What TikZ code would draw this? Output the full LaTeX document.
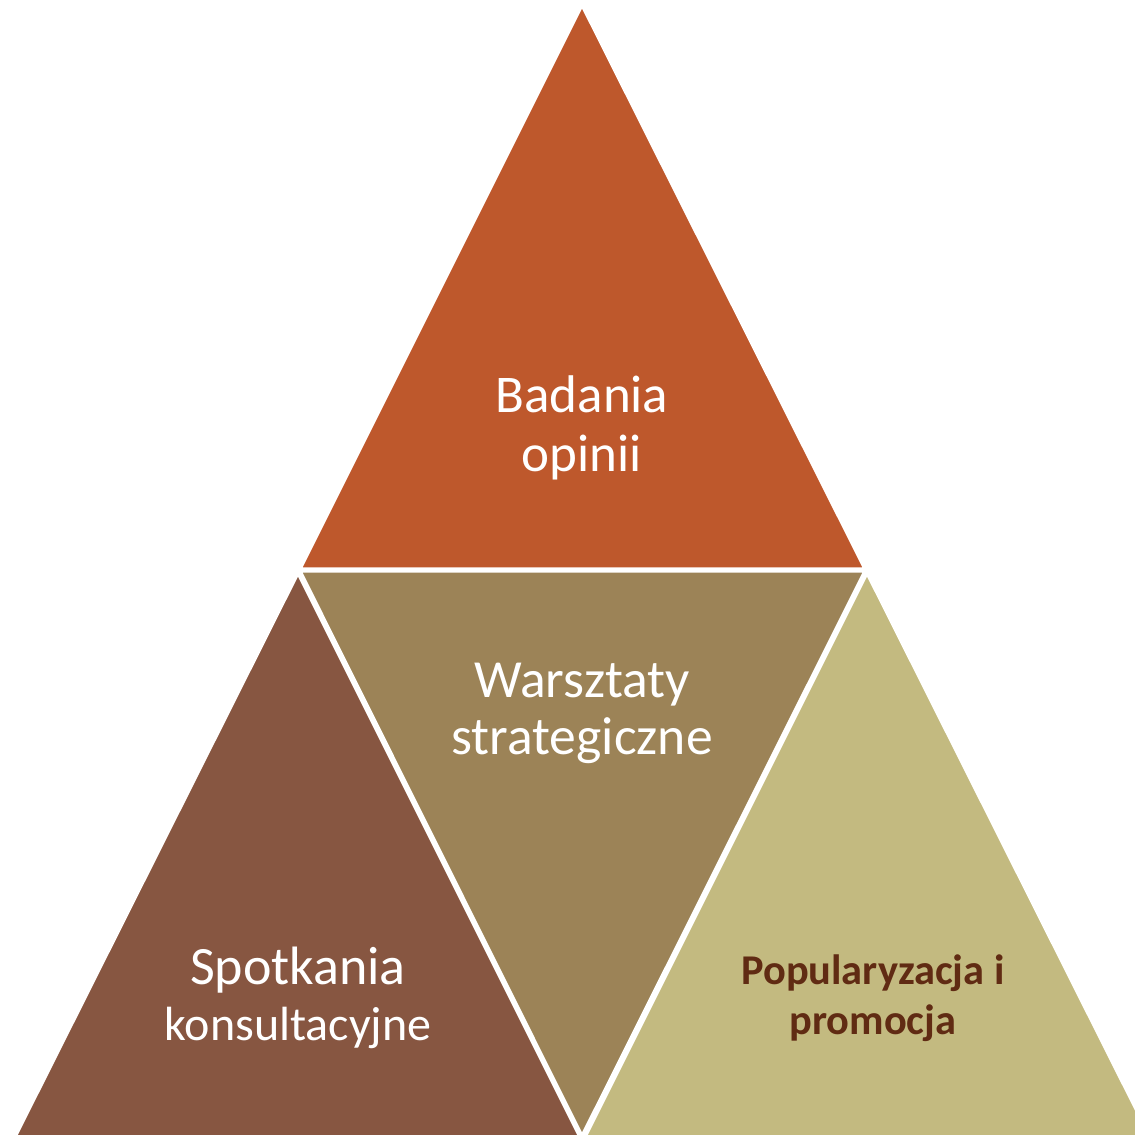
\documentclass[tikz,border=0pt]{standalone}
\usepackage{fontspec}
\setmainfont{Carlito}
\definecolor{cTop}{HTML}{BE582C}
\definecolor{cMid}{HTML}{9C8357}
\definecolor{cLeft}{HTML}{875641}
\definecolor{cRight}{HTML}{C3BA80}
\definecolor{cText}{HTML}{602B13}
\begin{document}
\begin{tikzpicture}[x=0.5pt,y=-0.5pt,
  tri/.style={draw=white,line width=1.6pt,line join=miter},
  lbl/.style={align=center,text=white,inner sep=0pt},
  lblb/.style={align=center,text=cText,font=\fontsize{21.2}{25}\selectfont\bfseries,inner sep=0pt}]
\useasboundingbox (0,0) rectangle (1135,1135);
\begin{scope}
\clip (0,0) rectangle (1135,1135);
\fill[cTop,tri] (582,5) -- (865,569) -- (300,569) -- cycle;
\fill[cMid,tri] (300,571) -- (865,571) -- (582,1136) -- cycle;
\fill[cLeft,tri] (298,573) -- (580,1137) -- (15,1137) -- cycle;
\fill[cRight,tri] (867,573) -- (1150,1137) -- (585,1137) -- cycle;
\end{scope}
\node[lbl,font=\fontsize{26.5}{29.5}\selectfont] (top) at (582,428) {Badania\\opinii};
\node[lbl,font=\fontsize{26.8}{28.5}\selectfont] (mid) at (582,713) {Warsztaty\\strategiczne};
\node[lbl,font=\fontsize{24}{28}\selectfont] (left) at (298,998) {{\fontsize{27}{28}\selectfont Spotkania}\\konsultacyjne};
\node[lblb] (right) at (873,998) {Popularyzacja i\\promocja};
\end{tikzpicture}
\end{document}
